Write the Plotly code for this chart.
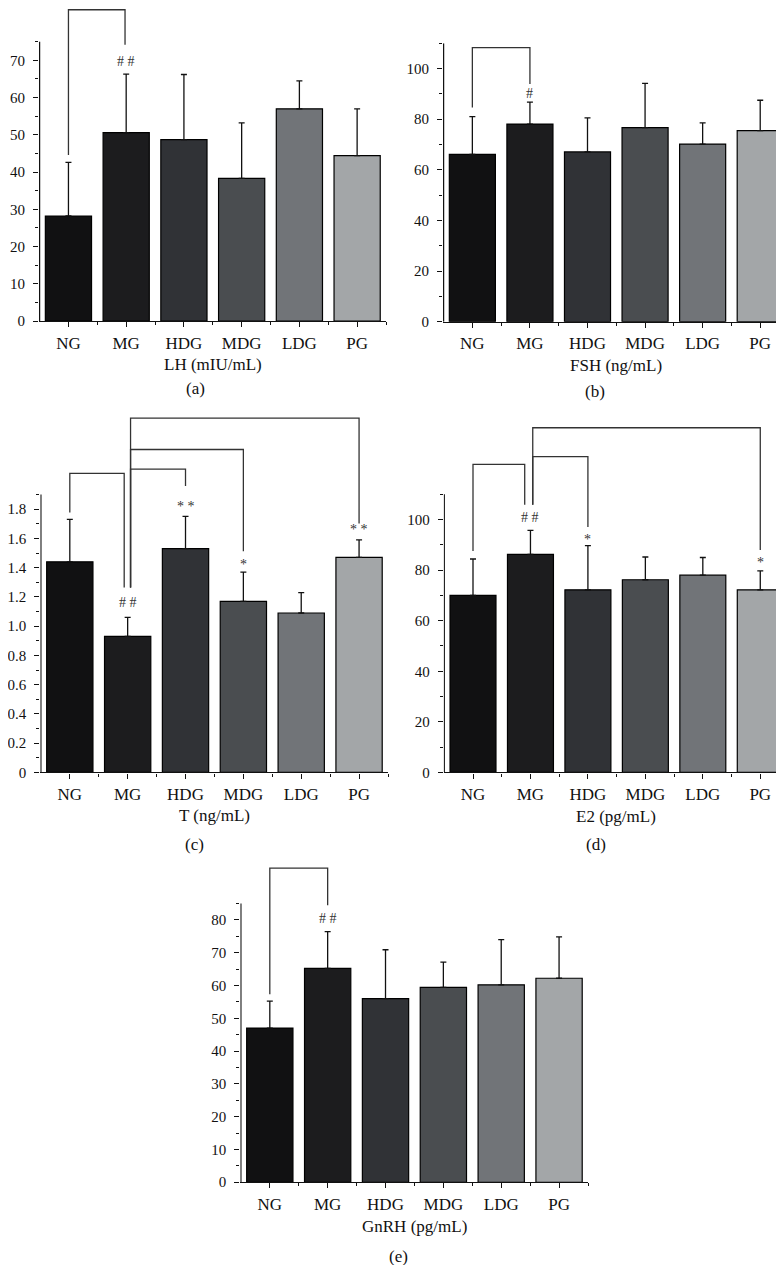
import plotly.graph_objects as go

W, H = 784, 1265

groups = ["NG", "MG", "HDG", "MDG", "LDG", "PG"]
bar_colors = ["#111112", "#1c1c1e", "#303236", "#4a4d50", "#717478", "#a3a6a8"]

lh_mean = [28.2, 50.6, 48.7, 38.3, 57.0, 44.4]
lh_upper = [42.6, 66.3, 66.2, 53.2, 64.5, 57.0]
fsh_mean = [66.1, 78.1, 67.1, 76.7, 70.2, 75.5]
fsh_upper = [81.0, 86.8, 80.5, 94.2, 78.6, 87.5]
t_mean = [1.44, 0.93, 1.53, 1.17, 1.09, 1.47]
t_upper = [1.73, 1.06, 1.75, 1.37, 1.23, 1.59]
e2_mean = [70.0, 86.2, 72.2, 76.2, 78.0, 72.2]
e2_upper = [84.4, 95.7, 89.7, 85.2, 85.0, 79.7]
gnrh_mean = [47.0, 65.2, 56.0, 59.4, 60.2, 62.2]
gnrh_upper = [55.2, 76.4, 70.9, 67.1, 74.0, 74.8]

# brackets: (x_start, y_start, y_top, x_end, y_end)
lh_brackets = [(0, 44.6, 83.6, 0.98, 74.2)]
fsh_brackets = [(0, 84.6, 108.3, 1, 93.9)]
t_brackets = [(0, 1.777, 2.045, 0.94, 1.264),
              (1.05, 1.264, 2.074, 2, 1.959),
              (1.05, 1.264, 2.208, 3, 1.512),
              (1.05, 1.264, 2.423, 5, 1.702)]
e2_brackets = [(0, 87.6, 121.8, 0.9, 105.9),
               (1.04, 105.9, 124.9, 2, 97.1),
               (1.04, 105.9, 136.3, 5, 88.0)]
gnrh_brackets = [(0, 57.3, 95.8, 1, 84.5)]

# significance marks: (text, x, y)
lh_marks = [("# #", 1, 69.6)]
fsh_marks = [("#", 1, 90.3)]
t_marks = [("# #", 1, 1.165), ("* *", 2, 1.82), ("*", 3, 1.42), ("* *", 5, 1.66)]
e2_marks = [("# #", 1, 101.0), ("*", 2, 92.3), ("*", 5, 82.9)]
gnrh_marks = [("# #", 1, 80.4)]

panels = [
    dict(mean=lh_mean, upper=lh_upper, br=lh_brackets, marks=lh_marks,
         title="LH (mIU/mL)", label="(a)",
         xpx=(31, 378), zero=315, unit=3.747, rtop=84.0, atop=75,
         major=[0, 10, 20, 30, 40, 50, 60, 70], minor=[5, 15, 25, 35, 45, 55, 65, 75],
         ticktext=None, title_y=359, label_y=383, label_x=187),
    dict(mean=fsh_mean, upper=fsh_upper, br=fsh_brackets, marks=fsh_marks,
         title="FSH (ng/mL)", label="(b)",
         xpx=(435, 781), zero=315.7, unit=2.547, rtop=110, atop=110,
         major=[0, 20, 40, 60, 80, 100], minor=[10, 30, 50, 70, 90, 110],
         ticktext=None, title_y=360, label_y=386, label_x=587),
    dict(mean=t_mean, upper=t_upper, br=t_brackets, marks=t_marks,
         title="T (ng/mL)", label="(c)",
         xpx=(32.3, 380), zero=769.3, unit=147.2, rtop=2.45, atop=1.9,
         major=[0, 0.2, 0.4, 0.6, 0.8, 1.0, 1.2, 1.4, 1.6, 1.8],
         minor=[0.1, 0.3, 0.5, 0.7, 0.9, 1.1, 1.3, 1.5, 1.7, 1.9],
         ticktext=["0", "0.2", "0.4", "0.6", "0.8", "1.0", "1.2", "1.4", "1.6", "1.8"],
         title_y=813, label_y=842, label_x=186),
    dict(mean=e2_mean, upper=e2_upper, br=e2_brackets, marks=e2_marks,
         title="E2 (pg/mL)", label="(d)",
         xpx=(435.7, 781), zero=769.3, unit=2.545, rtop=138, atop=110,
         major=[0, 20, 40, 60, 80, 100], minor=[10, 30, 50, 70, 90, 110],
         ticktext=None, title_y=814, label_y=842, label_x=588),
    dict(mean=gnrh_mean, upper=gnrh_upper, br=gnrh_brackets, marks=gnrh_marks,
         title="GnRH (pg/mL)", label="(e)",
         xpx=(232.3, 580), zero=1181.7, unit=3.3, rtop=96.5, atop=85,
         major=[0, 10, 20, 30, 40, 50, 60, 70, 80], minor=[5, 15, 25, 35, 45, 55, 65, 75, 85],
         ticktext=None, title_y=1226, label_y=1256, label_x=390),
]

FONT = "Liberation Serif"
fig = go.Figure()
layout = dict(width=W, height=H, margin=dict(l=0, r=0, t=0, b=0),
              paper_bgcolor="white", plot_bgcolor="white", showlegend=False,
              font=dict(family=FONT, color="#111"))
shapes = []
annotations = []
xpos = list(range(len(groups)))
XR = [-0.51, 5.5]

for i, p in enumerate(panels, start=1):
    xa = "x" if i == 1 else f"x{i}"
    ya = "y" if i == 1 else f"y{i}"
    xkey = "xaxis" if i == 1 else f"xaxis{i}"
    ykey = "yaxis" if i == 1 else f"yaxis{i}"
    top_px = p["zero"] - p["rtop"] * p["unit"]
    xdom = [p["xpx"][0] / W, p["xpx"][1] / W]
    ydom = [1 - p["zero"] / H, 1 - top_px / H]

    fig.add_trace(go.Bar(
        x=xpos, y=p["mean"], width=0.8, xaxis=xa, yaxis=ya,
        marker=dict(color=bar_colors, line=dict(color="black", width=1.2)),
        error_y=dict(type="data", symmetric=False,
                     array=[u - m for u, m in zip(p["upper"], p["mean"])],
                     arrayminus=[0] * 6, color="#111", thickness=1.3, width=3),
        hoverinfo="skip"))

    layout[xkey] = dict(domain=xdom, anchor=ya, range=XR, showgrid=False, zeroline=False,
                        showline=True, linecolor="#111", linewidth=1.3,
                        tickmode="array", tickvals=xpos, ticktext=groups,
                        ticks="outside", ticklen=5, tickwidth=1, tickcolor="#111",
                        ticklabelstandoff=1,
                        tickfont=dict(family=FONT, size=17, color="#111"),
                        minor=dict(tickmode="array", tickvals=[0.5, 1.5, 2.5, 3.5, 4.5, 5.5],
                                   ticks="outside", ticklen=3, tickwidth=1, tickcolor="#111"),
                        fixedrange=True)
    ydict = dict(domain=ydom, anchor=xa, range=[0, p["rtop"]], showgrid=False, zeroline=False,
                 showline=False, tickmode="array", tickvals=p["major"],
                 ticks="outside", ticklen=5, tickwidth=1, tickcolor="#111",
                 ticklabelstandoff=5,
                 tickfont=dict(family=FONT, size=15, color="#111"),
                 minor=dict(tickmode="array", tickvals=p["minor"], ticks="outside",
                            ticklen=3, tickwidth=1, tickcolor="#111"),
                 fixedrange=True)
    if p["ticktext"]:
        ydict["ticktext"] = p["ticktext"]
    layout[ykey] = ydict

    # y axis line up to axis top only
    shapes.append(dict(type="line", xref=xa, yref=ya, x0=-0.5, x1=-0.5, y0=0, y1=p["atop"],
                       line=dict(color="#111", width=1.3)))
    # brackets
    for (xs, ys, yt, xe, ye) in p["br"]:
        shapes.append(dict(type="path", xref=xa, yref=ya,
                           path=f"M {xs},{ys} L {xs},{yt} L {xe},{yt} L {xe},{ye}",
                           line=dict(color="#333", width=1.3)))
    for (txt, xx, yy) in p["marks"]:
        annotations.append(dict(text=txt, x=xx, y=yy, xref=xa, yref=ya, showarrow=False,
                                xanchor="center", yanchor="middle",
                                font=dict(family=FONT, size=14, color="#333")))
    annotations.append(dict(text=p["title"], x=0.5, xref=f"{xa} domain", y=1 - p["title_y"] / H,
                            yref="paper", showarrow=False, xanchor="center", yanchor="middle",
                            font=dict(family=FONT, size=17, color="#111")))
    annotations.append(dict(text=p["label"], x=p["label_x"] / W, xref="paper",
                            y=1 - p["label_y"] / H, yref="paper", showarrow=False,
                            xanchor="center", yanchor="middle",
                            font=dict(family=FONT, size=17, color="#111")))

layout["shapes"] = shapes
layout["annotations"] = annotations
fig.update_layout(**layout)
fig.write_html("out.html")
